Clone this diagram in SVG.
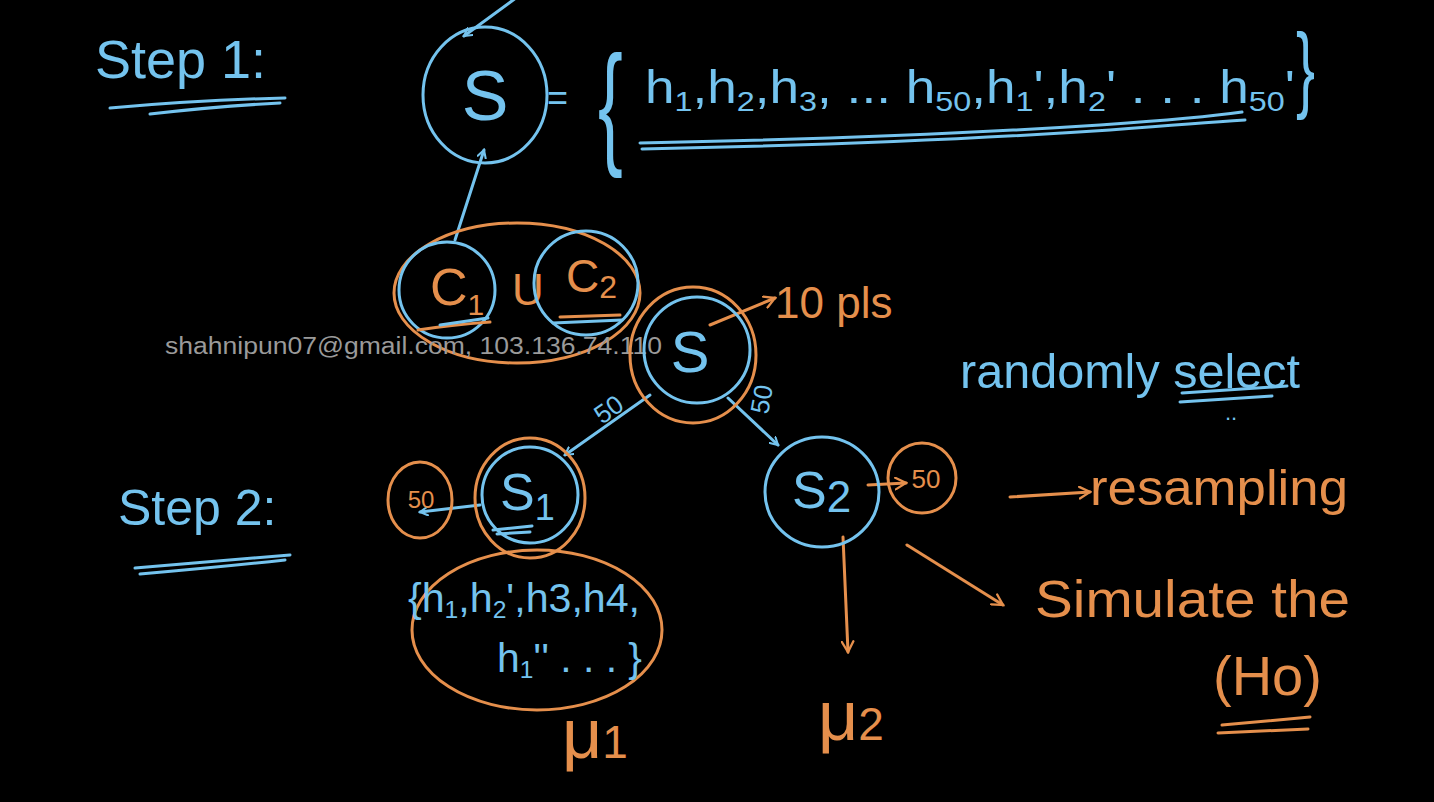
<svg xmlns="http://www.w3.org/2000/svg" width="1434" height="802" viewBox="0 0 1434 802">
<defs>
<style>
.b{fill:none;stroke:#74c3ee;stroke-width:3;stroke-linecap:round;stroke-linejoin:round}
.o{fill:none;stroke:#e58f4c;stroke-width:3;stroke-linecap:round;stroke-linejoin:round}
.tb{fill:#74c3ee;font-family:"Liberation Sans",Arial,sans-serif}
.to{fill:#e58f4c;font-family:"Liberation Sans",Arial,sans-serif}
.wm{fill:#9a9a9a;font-family:"Liberation Sans",Arial,sans-serif;font-size:23px}
</style>
<marker id="ab" viewBox="0 0 12 12" refX="10" refY="6" markerWidth="10" markerHeight="10" markerUnits="userSpaceOnUse" orient="auto"><path d="M1,1 L10,6 L1,11" fill="none" stroke="#74c3ee" stroke-width="2.5" stroke-linecap="round"/></marker>
<marker id="ao" viewBox="0 0 12 12" refX="10" refY="6" markerWidth="14" markerHeight="14" markerUnits="userSpaceOnUse" orient="auto"><path d="M1,1 L10,6 L1,11" fill="none" stroke="#e58f4c" stroke-width="2" stroke-linecap="round"/></marker>
</defs>
<rect width="1434" height="802" fill="#000"/>

<g id="step1">
<text class="tb" x="95" y="78" font-size="54">Step 1:</text>
<path class="b" d="M110,108 Q200,100 285,98 M150,114 Q220,106 280,103"/>
</g>

<g id="connectors">
<path class="b" d="M520,-5 L464,36" marker-end="url(#ab)"/>
<path class="b" d="M455,240 L484,150" marker-end="url(#ab)"/>
<path class="b" d="M650,395 L565,455" marker-end="url(#ab)"/>
<path class="b" d="M728,398 L778,445" marker-end="url(#ab)"/>
<path class="b" d="M480,505 L420,512" marker-end="url(#ab)"/>
<path class="o" d="M710,325 L775,298" marker-end="url(#ao)"/>
<path class="o" d="M868,485 L906,483" marker-end="url(#ao)"/>
<path class="o" d="M843,537 L848,652" marker-end="url(#ao)"/>
<path class="o" d="M907,545 L1003,605" marker-end="url(#ao)"/>
<path class="o" d="M1010,497 L1090,492" marker-end="url(#ao)"/>
<text class="tb" font-size="26" transform="translate(602,425) rotate(-35)">50</text>
<text class="tb" font-size="26" transform="translate(768,415) rotate(-80)">50</text>
</g>

<g id="S-top">
<ellipse class="b" cx="485" cy="95" rx="62" ry="68"/>
<text class="tb" x="485" y="120" font-size="70" text-anchor="middle">S</text>
<text class="tb" x="547" y="110" font-size="36">=</text>
</g>

<g id="set-top">
<text class="tb" font-size="135" transform="translate(598,150) scale(0.55,1)">{</text>
<text class="tb" x="645" y="103" font-size="46" textLength="650" lengthAdjust="spacingAndGlyphs">h<tspan font-size="28" dy="8">1</tspan><tspan dy="-8">,h</tspan><tspan font-size="28" dy="8">2</tspan><tspan dy="-8">,h</tspan><tspan font-size="28" dy="8">3</tspan><tspan dy="-8">, ... h</tspan><tspan font-size="28" dy="8">50</tspan><tspan dy="-8">,h</tspan><tspan font-size="28" dy="8">1</tspan><tspan dy="-8">',h</tspan><tspan font-size="28" dy="8">2</tspan><tspan dy="-8">' . . . h</tspan><tspan font-size="28" dy="8">50</tspan><tspan dy="-8">'</tspan></text>
<text class="tb" font-size="95" transform="translate(1296,100) scale(0.6,1)">}</text>
<path class="b" d="M640,143 Q900,138 1100,125 Q1200,118 1242,112 M642,149 Q900,144 1110,130 Q1200,123 1245,120"/>
</g>

<g id="C1uC2">
<ellipse class="o" cx="517" cy="293" rx="123" ry="70"/>
<circle class="b" cx="447" cy="290" r="48"/>
<text class="to" x="430" y="305" font-size="52">C<tspan font-size="30" dy="10">1</tspan></text>
<path class="o" d="M418,330 Q450,325 490,322"/>
<path class="b" d="M440,325 L488,318"/>
<text class="to" x="512" y="305" font-size="44">U</text>
<circle class="b" cx="586" cy="283" r="52"/>
<text class="to" x="566" y="292" font-size="46">C<tspan font-size="32" dy="6">2</tspan></text>
<path class="o" d="M560,317 L620,315"/>
<path class="b" d="M553,323 L622,320"/>
</g>

<text class="wm" x="165" y="354" textLength="497" lengthAdjust="spacingAndGlyphs">shahnipun07@gmail.com, 103.136.74.110</text>

<g id="S-mid">
<ellipse class="o" cx="693" cy="355" rx="63" ry="68"/>
<circle class="b" cx="697" cy="350" r="53"/>
<text class="tb" x="690" y="372" font-size="58" text-anchor="middle">S</text>
<text class="to" x="775" y="318" font-size="44">10 pls</text>
</g>

<g id="step2">
<text class="tb" x="118" y="525" font-size="50">Step 2:</text>
<path class="b" d="M135,568 Q210,562 290,555 M140,574 Q210,568 285,560"/>
</g>

<g id="S1">
<ellipse class="o" cx="530" cy="498" rx="55" ry="60"/>
<circle class="b" cx="530" cy="495" r="48"/>
<text class="tb" x="500" y="510" font-size="52">S<tspan font-size="36" dy="10">1</tspan></text>
<path class="b" d="M493,530 L532,526 M497,534 L530,532"/>
</g>

<g id="n50-left">
<ellipse class="o" cx="420" cy="500" rx="32" ry="38"/>
<text class="to" x="421" y="508" font-size="24" text-anchor="middle">50</text>
</g>

<g id="S2">
<ellipse class="b" cx="822" cy="492" rx="57" ry="55"/>
<text class="tb" x="792" y="508" font-size="52">S<tspan dy="4" font-size="44">2</tspan></text>
</g>

<g id="n50-right">
<ellipse class="o" cx="922" cy="478" rx="34" ry="35"/>
<text class="to" x="926" y="488" font-size="26" text-anchor="middle">50</text>
</g>

<g id="set-s1">
<ellipse class="o" cx="537" cy="630" rx="125" ry="80"/>
<text class="tb" x="408" y="612" font-size="40" textLength="232" lengthAdjust="spacingAndGlyphs">{h<tspan font-size="24" dy="6">1</tspan><tspan dy="-6">,h</tspan><tspan font-size="24" dy="6">2</tspan><tspan dy="-6">',h3,h4,</tspan></text>
<text class="tb" x="497" y="672" font-size="40" textLength="145" lengthAdjust="spacingAndGlyphs">h<tspan font-size="24" dy="6">1</tspan><tspan dy="-6">'' . . . }</tspan></text>
</g>

<g id="mu1">
<text class="to" x="562" y="758" font-size="70">μ<tspan font-size="46">1</tspan></text>
</g>
<g id="mu2">
<text class="to" x="818" y="740" font-size="70">μ<tspan font-size="46">2</tspan></text>
</g>

<g id="randomly">
<text class="tb" x="960" y="388" font-size="48" textLength="340" lengthAdjust="spacingAndGlyphs">randomly select</text>
<path class="b" d="M1182,393 L1287,386 M1180,402 L1272,396"/>
<text class="tb" x="1225" y="420" font-size="22">..</text>
</g>

<g id="resampling">
<text class="to" x="1090" y="505" font-size="50" textLength="258" lengthAdjust="spacingAndGlyphs">resampling</text>
</g>

<g id="simulate">
<text class="to" x="1035" y="617" font-size="52" textLength="315" lengthAdjust="spacingAndGlyphs">Simulate the</text>
<text class="to" x="1213" y="695" font-size="56">(Ho)</text>
<path class="o" d="M1222,725 L1310,717 M1218,733 L1308,729"/>
</g>
</svg>
